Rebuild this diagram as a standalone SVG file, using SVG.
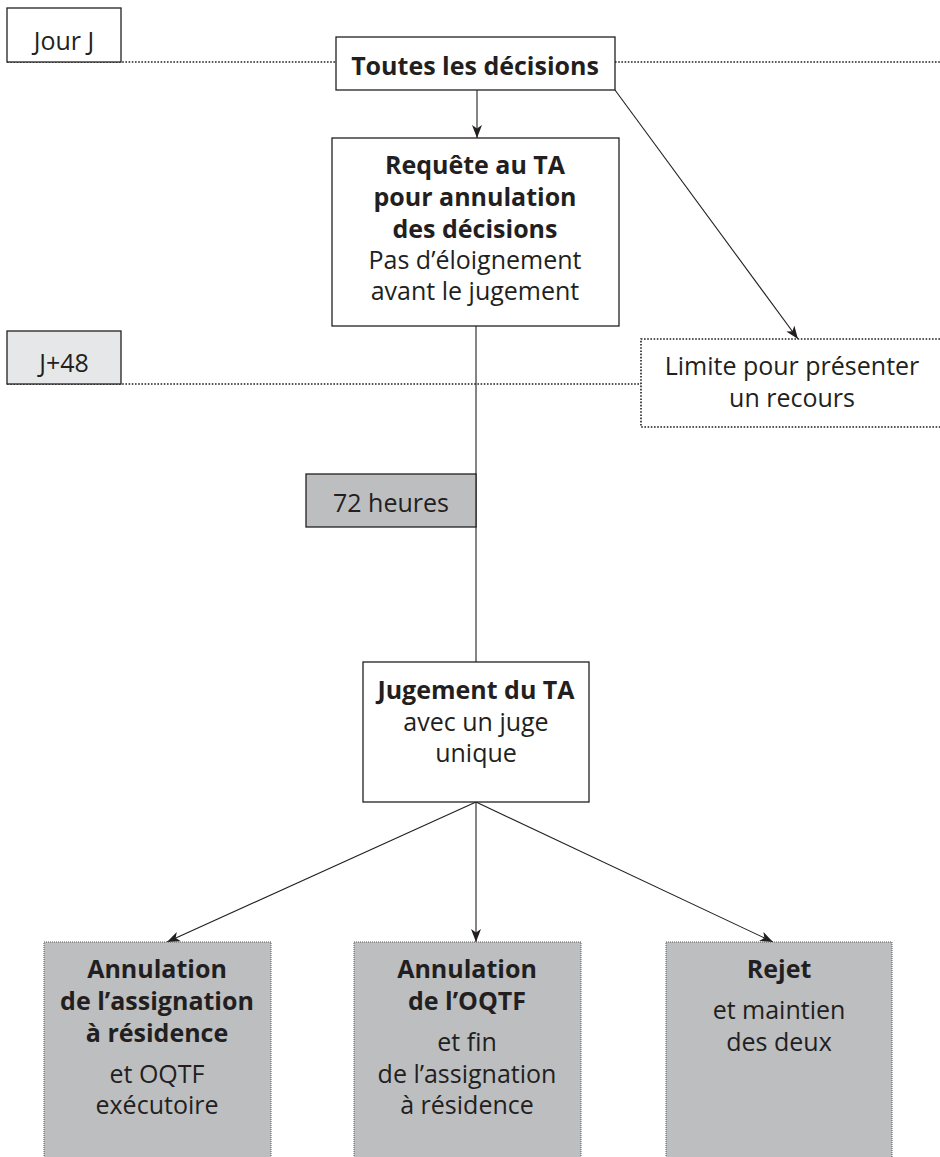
<svg xmlns="http://www.w3.org/2000/svg" width="940" height="1157" viewBox="0 0 940 1157">
<style>
text{font-family:"Open Sans","Noto Sans","Liberation Sans",sans-serif;fill:#231f20;text-anchor:middle;font-size:25px}
.b{font-weight:700}
.box{fill:#fff;stroke:#231f20;stroke-width:1.3}
.lbl{fill:#e6e7e8;stroke:#231f20;stroke-width:1.3}
.grey{fill:#bcbec0;stroke:#231f20;stroke-width:1.3}
.res{fill:#bcbec0;stroke:#58595b;stroke-width:1;stroke-dasharray:1 1}
.dot{fill:none;stroke:#231f20;stroke-width:1.6;stroke-dasharray:1.6 1.6}
.ln{fill:none;stroke:#231f20;stroke-width:1.1}
</style>
<defs>
<marker id="ah" markerWidth="14" markerHeight="10" refX="13" refY="5" orient="auto" markerUnits="userSpaceOnUse">
<path d="M0,0 L13,5 L0,10 L3.5,5 z" fill="#231f20"/>
</marker>
</defs>
<g id="timelines">
<line class="dot" x1="7" y1="62" x2="940" y2="62"/>
<line class="dot" x1="7" y1="384" x2="641" y2="384"/>
</g>
<g id="connectors">
<line class="ln" x1="477" y1="90" x2="477" y2="138" marker-end="url(#ah)"/>
<line class="ln" x1="615" y1="90" x2="798" y2="339" marker-end="url(#ah)"/>
<line class="ln" x1="476" y1="326" x2="476" y2="662"/>
<line class="ln" x1="476" y1="802" x2="167" y2="942" marker-end="url(#ah)"/>
<line class="ln" x1="476" y1="802" x2="476" y2="942" marker-end="url(#ah)"/>
<line class="ln" x1="476" y1="802" x2="773" y2="942" marker-end="url(#ah)"/>
</g>
<g id="jourj">
<rect class="box" x="7" y="8" width="114" height="54"/>
<text x="64" y="50">Jour J</text>
</g>
<g id="toutes">
<rect class="box" x="336" y="37" width="279" height="53"/>
<text class="b" x="475" y="75" font-size="26">Toutes les décisions</text>
</g>
<g id="requete">
<rect class="box" x="332" y="138" width="287" height="188"/>
<text class="b" x="475" y="174">Requête au TA</text>
<text class="b" x="475" y="206">pour annulation</text>
<text class="b" x="475" y="238">des décisions</text>
<text x="475" y="269">Pas d’éloignement</text>
<text x="475" y="300">avant le jugement</text>
</g>
<g id="j48">
<rect class="lbl" x="7" y="331" width="114" height="53"/>
<text x="64" y="372">J+48</text>
</g>
<g id="limite">
<path class="dot" d="M940,339 H641 V427 H940"/>
<text x="792" y="375">Limite pour présenter</text>
<text x="792" y="407">un recours</text>
</g>
<g id="h72">
<rect class="grey" x="306" y="474" width="170" height="53"/>
<text x="391" y="512">72 heures</text>
</g>
<g id="jugement">
<rect class="box" x="363" y="662" width="226" height="140"/>
<text class="b" x="476" y="699">Jugement du TA</text>
<text x="476" y="731">avec un juge</text>
<text x="476" y="762">unique</text>
</g>
<g id="annul-ar">
<rect class="res" x="44" y="942" width="227" height="230"/>
<text class="b" x="157" y="978">Annulation</text>
<text class="b" x="157" y="1010">de l’assignation</text>
<text class="b" x="157" y="1042">à résidence</text>
<text x="157" y="1083">et OQTF</text>
<text x="157" y="1114">exécutoire</text>
</g>
<g id="annul-oqtf">
<rect class="res" x="354" y="942" width="227" height="230"/>
<text class="b" x="467" y="978">Annulation</text>
<text class="b" x="467" y="1010">de l’OQTF</text>
<text x="467" y="1051">et fin</text>
<text x="467" y="1083">de l’assignation</text>
<text x="467" y="1114">à résidence</text>
</g>
<g id="rejet">
<rect class="res" x="666" y="942" width="226" height="230"/>
<text class="b" x="779" y="978">Rejet</text>
<text x="779" y="1019">et maintien</text>
<text x="779" y="1051">des deux</text>
</g>
</svg>
